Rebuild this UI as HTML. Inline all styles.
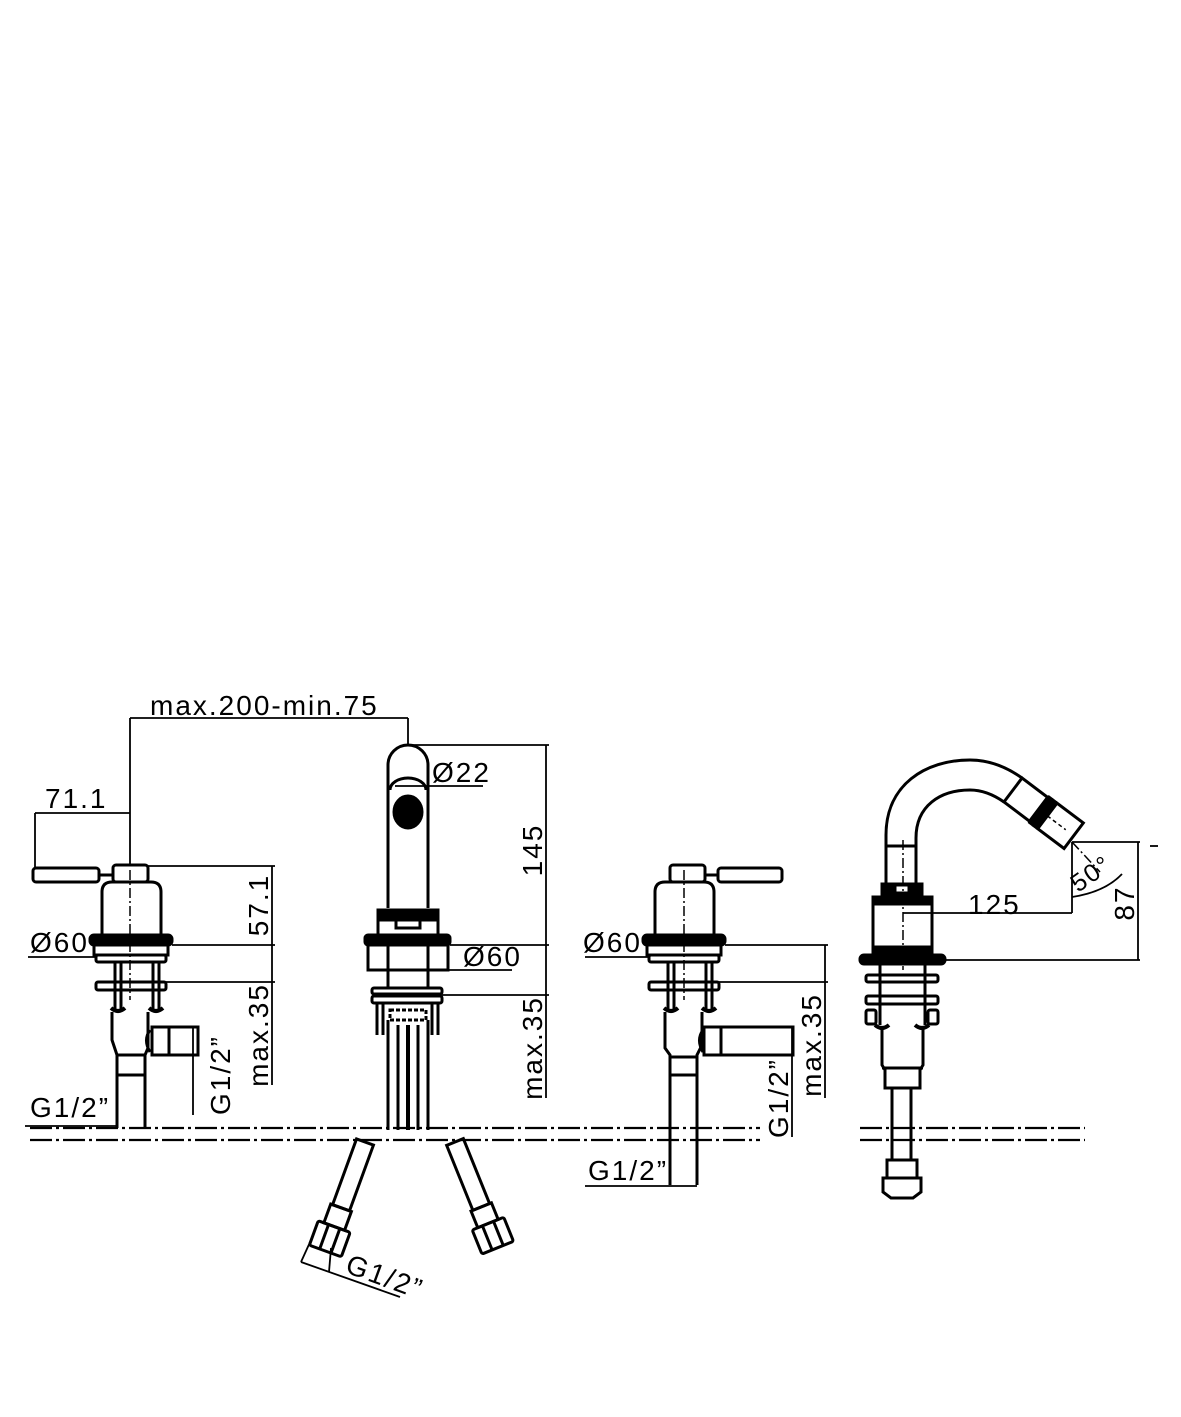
<!DOCTYPE html>
<html><head><meta charset="utf-8"><style>
html,body{margin:0;padding:0;background:#fff}
svg{display:block}
text{font-family:"Liberation Sans",sans-serif;font-size:28px;fill:#000;letter-spacing:2px}
</style></head><body>
<svg width="1181" height="1417" viewBox="0 0 1181 1417" xmlns="http://www.w3.org/2000/svg">
<g fill="none" stroke="#000" stroke-width="3">
<g stroke-dasharray="22,4,3,4" stroke-width="2.2">
<line x1="30" y1="1128" x2="760" y2="1128"/><line x1="30" y1="1140" x2="760" y2="1140"/>
<line x1="860" y1="1128" x2="1085" y2="1128"/><line x1="860" y1="1140" x2="1085" y2="1140"/>
</g>

<rect x="33" y="868" width="66" height="14" rx="3"/>
<line x1="99" y1="875" x2="113" y2="875"/>
<rect x="113" y="865" width="35" height="17" rx="3"/>
<path d="M102,935 L102,892 Q102,882 112,882 L151,882 Q161,882 161,892 L161,935"/>
<rect x="90" y="935" width="82" height="10" rx="4" fill="#000"/>
<path d="M94,945 L94,955 L168,955 L168,945"/>
<rect x="96" y="955" width="70" height="7" rx="2"/>
<rect x="96" y="982" width="70" height="8" rx="2"/>
<line x1="115" y1="962" x2="115" y2="1010"/><line x1="121" y1="962" x2="121" y2="1010"/>
<line x1="153" y1="962" x2="153" y2="1010"/><line x1="159" y1="962" x2="159" y2="1010"/>
<path d="M111,1008 q7,6 14,0 M149,1008 q7,6 14,0" stroke-width="4"/>
<path d="M112,1012 L112,1040 L117,1055 L117,1128 M148,1012 L148,1048 L145,1055 L145,1128"/>
<line x1="117" y1="1055" x2="145" y2="1055"/><line x1="117" y1="1075" x2="145" y2="1075"/>
<path d="M150,1030 Q143,1040 150,1052"/>
<rect x="152" y="1027" width="17" height="28"/>
<path d="M169,1027 L198,1027 L198,1055 L169,1055"/>
<g stroke-width="1.5" stroke-dasharray="10,3,2,3"><line x1="130" y1="870" x2="130" y2="1000"/></g>

<g stroke-width="1.8">
<line x1="130" y1="718" x2="408" y2="718"/>
<line x1="130" y1="718" x2="130" y2="866"/>
<line x1="408" y1="718" x2="408" y2="745"/>
<line x1="35" y1="813" x2="130" y2="813"/>
<line x1="35" y1="813" x2="35" y2="868"/>
<line x1="148" y1="866" x2="275" y2="866"/>
<line x1="172" y1="945" x2="275" y2="945"/>
<line x1="166" y1="982" x2="275" y2="982"/>
<line x1="272" y1="866" x2="272" y2="1085"/>
<line x1="193" y1="1027" x2="193" y2="1115"/>
<line x1="28" y1="957" x2="95" y2="957"/>
<line x1="25" y1="1126" x2="118" y2="1126"/>
</g>
</g>
<text x="150" y="715">max.200-min.75</text>
<text x="45" y="808">71.1</text>
<text x="30" y="952">Ø60</text>
<text x="30" y="1117">G1/2”</text>
<text transform="translate(268,905) rotate(-90)" text-anchor="middle">57.1</text>
<text transform="translate(268,1035) rotate(-90)" text-anchor="middle">max.35</text>
<text transform="translate(230,1075) rotate(-90)" text-anchor="middle">G1/2”</text>

<g fill="none" stroke="#000" stroke-width="3">
<path d="M388,908 L388,765 A20,20 0 0 1 428,765 L428,908"/>
<path d="M390,790 A18,12 0 0 1 426,790"/>
<ellipse cx="408" cy="812" rx="14" ry="16" fill="#000"/>
<rect x="378" y="910" width="60" height="10" fill="#000"/>
<path d="M378,935 L378,918 L438,918 L438,935"/>
<rect x="396" y="918" width="24" height="10"/>
<rect x="365" y="935" width="85" height="10" rx="3" fill="#000"/>
<path d="M368,945 L368,970 L448,970 L448,945"/>
<line x1="388" y1="945" x2="388" y2="988"/><line x1="428" y1="945" x2="428" y2="988"/>
<rect x="372" y="988" width="70" height="6" rx="2"/>
<rect x="372" y="996" width="70" height="7" rx="2"/>
<line x1="377" y1="1003" x2="377" y2="1035"/><line x1="383" y1="1003" x2="383" y2="1035"/>
<line x1="432" y1="1003" x2="432" y2="1035"/><line x1="438" y1="1003" x2="438" y2="1035"/>
<rect x="390" y="1010" width="36" height="10" stroke-dasharray="4,2"/>
<path d="M388,1020 L388,1130 M428,1020 L428,1130 M398,1025 L398,1130 M418,1025 L418,1130"/>
<line x1="408" y1="1025" x2="408" y2="1130" stroke-width="4"/>
<g stroke-width="1.8">
<line x1="408" y1="745" x2="549" y2="745"/>
<line x1="546" y1="745" x2="546" y2="1098"/>
<line x1="395" y1="786" x2="483" y2="786"/>
<line x1="450" y1="945" x2="549" y2="945"/>
<line x1="448" y1="970" x2="512" y2="970"/>
<line x1="442" y1="995" x2="549" y2="995"/>
</g>
<g transform="translate(365,1142) rotate(20)">
<rect x="-9" y="0" width="18" height="70"/><rect x="-11" y="70" width="22" height="20"/>
<rect x="-17" y="90" width="34" height="26" rx="2"/><line x1="-6" y1="90" x2="-6" y2="116"/><line x1="6" y1="90" x2="6" y2="116"/>
</g>
<g transform="translate(455,1142) rotate(-22)">
<rect x="-9" y="0" width="18" height="70"/><rect x="-11" y="70" width="22" height="18"/>
<rect x="-17" y="88" width="34" height="26" rx="2"/><line x1="-6" y1="88" x2="-6" y2="114"/><line x1="6" y1="88" x2="6" y2="114"/>
</g>
<g stroke-width="1.8">
<line x1="311" y1="1240" x2="301" y2="1262"/>
<line x1="301" y1="1262" x2="400" y2="1297"/>
<line x1="331" y1="1248" x2="329" y2="1272"/>
</g>
</g>
<text x="432" y="782">Ø22</text>
<text x="463" y="966">Ø60</text>
<text transform="translate(542,850) rotate(-90)" text-anchor="middle">145</text>
<text transform="translate(542,1048) rotate(-90)" text-anchor="middle">max.35</text>
<text transform="translate(344,1272) rotate(20)">G1/2”</text>

<g fill="none" stroke="#000" stroke-width="3">
<rect x="718" y="868" width="64" height="14" rx="3"/>
<line x1="705" y1="875" x2="718" y2="875"/>
<rect x="670" y="865" width="35" height="17" rx="3"/>
<path d="M655,935 L655,892 Q655,882 665,882 L704,882 Q714,882 714,892 L714,935"/>
<rect x="643" y="935" width="82" height="10" rx="4" fill="#000"/>
<path d="M647,945 L647,955 L721,955 L721,945"/>
<rect x="649" y="955" width="70" height="7" rx="2"/>
<rect x="649" y="982" width="70" height="8" rx="2"/>
<line x1="668" y1="962" x2="668" y2="1010"/><line x1="674" y1="962" x2="674" y2="1010"/>
<line x1="706" y1="962" x2="706" y2="1010"/><line x1="712" y1="962" x2="712" y2="1010"/>
<path d="M664,1008 q7,6 14,0 M702,1008 q7,6 14,0" stroke-width="4"/>
<path d="M665,1012 L665,1048 L670,1055 L670,1185 M702,1012 L702,1045 L697,1055 L697,1185"/>
<line x1="670" y1="1057" x2="697" y2="1057"/><line x1="670" y1="1075" x2="697" y2="1075"/>
<path d="M703,1030 Q696,1040 703,1052"/>
<rect x="704" y="1027" width="17" height="28"/>
<path d="M721,1027 L793,1027 L793,1055 L721,1055"/>
<g stroke-width="1.5" stroke-dasharray="10,3,2,3"><line x1="684" y1="870" x2="684" y2="1000"/></g>
<g stroke-width="1.8">
<line x1="585" y1="957" x2="648" y2="957"/>
<line x1="725" y1="945" x2="828" y2="945"/>
<line x1="719" y1="982" x2="828" y2="982"/>
<line x1="825" y1="945" x2="825" y2="1098"/>
<line x1="792" y1="1027" x2="792" y2="1137"/>
<line x1="585" y1="1186" x2="697" y2="1186"/>
</g>
</g>
<text x="583" y="952">Ø60</text>
<text x="588" y="1180">G1/2”</text>
<text transform="translate(821,1045) rotate(-90)" text-anchor="middle">max.35</text>
<text transform="translate(788,1098) rotate(-90)" text-anchor="middle">G1/2”</text>

<g fill="none" stroke="#000" stroke-width="3">
<path d="M886,885 L886,835 C886,785 925,760 970,760 C990,760 1008,768 1022,778"/>
<path d="M916,885 L916,838 C916,806 940,790 970,790 C982,790 994,795 1004,802"/>
<line x1="886" y1="846" x2="916" y2="846"/>
<g transform="translate(1013,790) rotate(37)">
<rect x="0" y="-15" width="32" height="30"/>
<rect x="33" y="-16" width="3" height="32"/>
<rect x="38" y="-16" width="3" height="32"/>
<rect x="43" y="-16" width="33" height="32"/>
<line x1="43" y1="0" x2="66" y2="0" stroke-width="1.5" stroke-dasharray="4,3"/>
</g>
<rect x="882" y="884" width="40" height="10" fill="#000"/>
<rect x="895" y="885" width="14" height="8" fill="#fff"/>
<path d="M873,955 L873,903 Q873,897 880,897 L925,897 Q932,897 932,903 L932,955"/>
<rect x="873" y="897" width="59" height="7" fill="#000"/>
<rect x="873" y="947" width="59" height="8" fill="#000"/>
<rect x="860" y="955" width="85" height="9" rx="4" fill="#000"/>
<line x1="880" y1="964" x2="880" y2="1025"/><line x1="925" y1="964" x2="925" y2="1025"/>
<rect x="866" y="975" width="72" height="7" rx="2"/>
<rect x="866" y="996" width="72" height="8" rx="2"/>
<rect x="866" y="1010" width="10" height="14" rx="2"/><rect x="928" y="1010" width="10" height="14" rx="2"/>
<path d="M875,1025 q7,6 14,0 M915,1025 q7,6 14,0" stroke-width="4"/>
<path d="M882,1028 L882,1065 L885,1070 L885,1088 L920,1088 L920,1070 L923,1065 L923,1028"/>
<line x1="882" y1="1068" x2="923" y2="1068"/>
<line x1="892" y1="1088" x2="892" y2="1160"/><line x1="911" y1="1088" x2="911" y2="1160"/>
<rect x="887" y="1160" width="30" height="18"/>
<path d="M883,1178 L921,1178 L921,1192 L913,1198 L891,1198 L883,1192 Z"/>
<g stroke-width="1.5" stroke-dasharray="10,3,2,3"><line x1="903" y1="840" x2="903" y2="970"/><line x1="1072" y1="842" x2="1100" y2="872"/></g>
<g stroke-width="1.8">
<line x1="903" y1="913" x2="1072" y2="913"/>
<line x1="1072" y1="842" x2="1072" y2="913"/>
<line x1="1072" y1="842" x2="1140" y2="842"/>
<line x1="945" y1="960" x2="1140" y2="960"/>
<line x1="1138" y1="842" x2="1138" y2="960"/>
<line x1="1150" y1="846" x2="1158" y2="846"/>
<path d="M1072,897 Q1105,892 1122,874"/>
</g>
</g>
<text x="968" y="914">125</text>
<text transform="translate(1134,903) rotate(-90)" text-anchor="middle">87</text>
<text transform="translate(1078,893) rotate(-35)" style="font-size:25px">50°</text>
</svg>
</body></html>
